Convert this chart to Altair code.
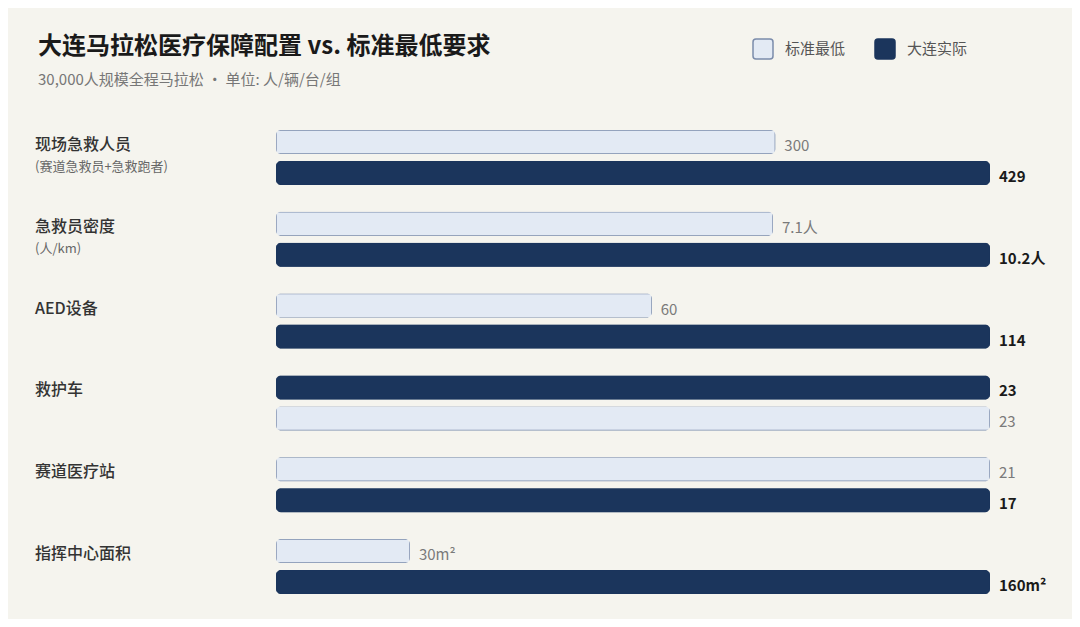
import altair as alt
import pandas as pd

# ---- data ----
categories = ["现场急救人员", "急救员密度", "AED设备", "救护车", "赛道医疗站", "指挥中心面积"]
sub_labels = ["(赛道急救员+急救跑者)", "(人/km)", "", "", "", ""]
standard = [300, 7.1, 60, 23, 21, 30]
actual = [429, 10.2, 114, 23, 17, 160]
units = ["", "人", "", "", "", "m²"]
top_series = ["标准最低", "标准最低", "标准最低", "大连实际", "标准最低", "标准最低"]
series_names = ["标准最低", "大连实际"]

TITLE = "大连马拉松医疗保障配置 vs. 标准最低要求"
SUBTITLE = "30,000人规模全程马拉松 · 单位: 人/辆/台/组"

rows = []
for i, cat in enumerate(categories):
    for s, v in ((series_names[0], standard[i]), (series_names[1], actual[i])):
        share = 1.0 if s == series_names[1] else min(v / actual[i], 1.0)
        rows.append(dict(
            category=cat, sub=sub_labels[i], series=s, value=v, share=share,
            slot=0 if s == top_series[i] else 1,
            label=f"{v:g}{units[i]}",
        ))
df = pd.DataFrame(rows)

BG = "#f5f4ee"
FONT = "Noto Sans CJK SC"
LIGHT, DARK, EDGE = "#e3eaf4", "#1b355c", "#7b8cab"

x_scale = alt.Scale(domain=[0, 1], range=[268, 982])
x_enc = alt.X("share:Q", scale=x_scale, axis=None)
y_enc = alt.Y("category:N", sort=categories, axis=None,
              scale=alt.Scale(range=[122, 586], paddingInner=0.3276, paddingOuter=0))
yoff_enc = alt.YOffset("slot:O", scale=alt.Scale(domain=[0, 1], paddingInner=0.2258, paddingOuter=0))

legend = alt.Legend(
    title=None, orient="none", legendX=744, legendY=30, direction="horizontal",
    symbolType="M-0.7,-1H0.7Q1,-1,1,-0.7V0.7Q1,1,0.7,1H-0.7Q-1,1,-1,0.7V-0.7Q-1,-1,-0.7,-1Z",
    symbolSize=400, symbolStrokeWidth=1.5, labelFontSize=15, labelFont=FONT,
    labelColor="#555555", labelOffset=11, columnPadding=26, padding=0,
)

bars = alt.Chart(df).mark_bar(cornerRadius=5, strokeWidth=1.4).encode(
    x=x_enc, y=y_enc, yOffset=yoff_enc,
    fill=alt.Fill("series:N", scale=alt.Scale(domain=series_names, range=[LIGHT, DARK]), legend=legend),
    stroke=alt.Stroke("series:N", scale=alt.Scale(domain=series_names, range=[EDGE, DARK]), legend=legend),
)

std_text = alt.Chart(df).transform_filter(alt.datum.series == series_names[0]).mark_text(
    align="left", baseline="middle", dx=9, dy=4, fontSize=15, font=FONT, color="#7a7a7a"
).encode(x=x_enc, y=y_enc, yOffset=yoff_enc, text="label:N")

act_text = alt.Chart(df).transform_filter(alt.datum.series == series_names[1]).mark_text(
    align="left", baseline="middle", dx=9, dy=4, fontSize=15, font=FONT, fontWeight="bold", color="#1a1a1a"
).encode(x=x_enc, y=y_enc, yOffset=yoff_enc, text="label:N")

cat_text = alt.Chart(df).transform_filter(alt.datum.slot == 0).mark_text(
    align="left", baseline="middle", dy=3, fontSize=16, font=FONT, fontWeight=500, color="#333333"
).encode(x=alt.value(27), y=y_enc, yOffset=yoff_enc, text="category:N")

sub_text = alt.Chart(df).transform_filter(
    (alt.datum.slot == 0) & (alt.datum.sub != "")
).mark_text(
    align="left", baseline="middle", dy=25, fontSize=13, font=FONT, color="#666666"
).encode(x=alt.value(27), y=y_enc, yOffset=yoff_enc, text="sub:N")

title_mark = alt.Chart(alt.Data(values=[{"t": TITLE}])).mark_text(
    align="left", baseline="middle", fontSize=24, font=FONT, fontWeight="bold", color="#1a1a1a"
).encode(x=alt.value(30), y=alt.value(39), text="t:N")

subtitle_mark = alt.Chart(alt.Data(values=[{"t": SUBTITLE}])).mark_text(
    align="left", baseline="middle", fontSize=15, font=FONT, color="#777777"
).encode(x=alt.value(30), y=alt.value(72), text="t:N")

chart = alt.layer(
    bars, std_text, act_text, cat_text, sub_text, title_mark, subtitle_mark
).properties(
    width=1064, height=611, background=BG, padding=0,
    autosize=alt.AutoSizeParams(type="none"),
).configure_view(stroke=None)

chart.save("out.html", embed_options={"renderer": "svg", "actions": False})
